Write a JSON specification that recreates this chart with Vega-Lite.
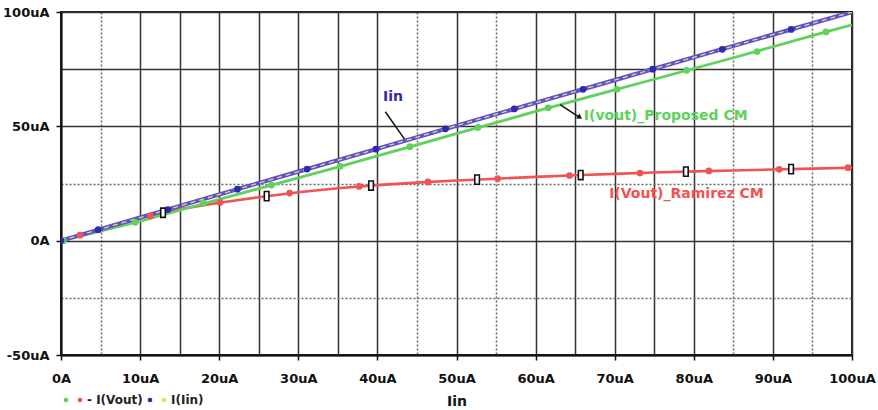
{
  "$schema": "https://vega.github.io/schema/vega-lite/v6.json",
  "width": 791,
  "height": 343,
  "autosize": {"type": "none"},
  "padding": {"left": 61, "top": 12, "right": 26, "bottom": 55},
  "background": "white",
  "config": {
    "view": {"stroke": "#222", "strokeWidth": 2},
    "font": "DejaVu Sans",
    "axis": {
      "gridColor": "#333", "gridWidth": 1.5, "gridOpacity": 1,
      "domainColor": "#111", "domainWidth": 2,
      "tickColor": "#111", "tickWidth": 1.5, "tickSize": 5,
      "labelFont": "DejaVu Sans", "labelFontSize": 13, "labelFontWeight": "bold", "labelColor": "#111",
      "titleFont": "DejaVu Sans", "titleFontSize": 14, "titleFontWeight": "bold", "titleColor": "#111",
      "labelOverlap": false, "labelFlush": false
    },
    "axisX": {"labelPadding": 12},
    "axisY": {"labelPadding": 7}
  },
  "datasets": {
    "curves": [
      {"series": "I(Vout)_Ramirez CM", "x": 0, "y": 0},
      {"series": "I(Vout)_Ramirez CM", "x": 5, "y": 5},
      {"series": "I(Vout)_Ramirez CM", "x": 10, "y": 9.8},
      {"series": "I(Vout)_Ramirez CM", "x": 15, "y": 13.8},
      {"series": "I(Vout)_Ramirez CM", "x": 20, "y": 16.6},
      {"series": "I(Vout)_Ramirez CM", "x": 25, "y": 19.0},
      {"series": "I(Vout)_Ramirez CM", "x": 30, "y": 21.2},
      {"series": "I(Vout)_Ramirez CM", "x": 35, "y": 22.9},
      {"series": "I(Vout)_Ramirez CM", "x": 40, "y": 24.3},
      {"series": "I(Vout)_Ramirez CM", "x": 45, "y": 25.4},
      {"series": "I(Vout)_Ramirez CM", "x": 50, "y": 26.3},
      {"series": "I(Vout)_Ramirez CM", "x": 55, "y": 27.1},
      {"series": "I(Vout)_Ramirez CM", "x": 60, "y": 27.9},
      {"series": "I(Vout)_Ramirez CM", "x": 65, "y": 28.6},
      {"series": "I(Vout)_Ramirez CM", "x": 70, "y": 29.2},
      {"series": "I(Vout)_Ramirez CM", "x": 75, "y": 29.8},
      {"series": "I(Vout)_Ramirez CM", "x": 80, "y": 30.3},
      {"series": "I(Vout)_Ramirez CM", "x": 85, "y": 30.7},
      {"series": "I(Vout)_Ramirez CM", "x": 90, "y": 31.1},
      {"series": "I(Vout)_Ramirez CM", "x": 95, "y": 31.5},
      {"series": "I(Vout)_Ramirez CM", "x": 100, "y": 31.9},
      {"series": "I(vout)_Proposed CM", "x": 0, "y": 0},
      {"series": "I(vout)_Proposed CM", "x": 5, "y": 4.2},
      {"series": "I(vout)_Proposed CM", "x": 10, "y": 8.5},
      {"series": "I(vout)_Proposed CM", "x": 15, "y": 13.3},
      {"series": "I(vout)_Proposed CM", "x": 20, "y": 18.1},
      {"series": "I(vout)_Proposed CM", "x": 25, "y": 22.8},
      {"series": "I(vout)_Proposed CM", "x": 30, "y": 27.5},
      {"series": "I(vout)_Proposed CM", "x": 35, "y": 32.2},
      {"series": "I(vout)_Proposed CM", "x": 40, "y": 37.1},
      {"series": "I(vout)_Proposed CM", "x": 45, "y": 41.9},
      {"series": "I(vout)_Proposed CM", "x": 50, "y": 46.8},
      {"series": "I(vout)_Proposed CM", "x": 55, "y": 51.6},
      {"series": "I(vout)_Proposed CM", "x": 60, "y": 56.5},
      {"series": "I(vout)_Proposed CM", "x": 65, "y": 61.2},
      {"series": "I(vout)_Proposed CM", "x": 70, "y": 65.9},
      {"series": "I(vout)_Proposed CM", "x": 75, "y": 70.6},
      {"series": "I(vout)_Proposed CM", "x": 80, "y": 75.3},
      {"series": "I(vout)_Proposed CM", "x": 85, "y": 80.0},
      {"series": "I(vout)_Proposed CM", "x": 90, "y": 84.8},
      {"series": "I(vout)_Proposed CM", "x": 95, "y": 89.7},
      {"series": "I(vout)_Proposed CM", "x": 100, "y": 94.4},
      {"series": "Iin", "x": 0, "y": 0},
      {"series": "Iin", "x": 10, "y": 10.1},
      {"series": "Iin", "x": 20, "y": 20.2},
      {"series": "Iin", "x": 30, "y": 30.2},
      {"series": "Iin", "x": 40, "y": 40.2},
      {"series": "Iin", "x": 50, "y": 50.3},
      {"series": "Iin", "x": 60, "y": 60.3},
      {"series": "Iin", "x": 70, "y": 70.2},
      {"series": "Iin", "x": 80, "y": 80.2},
      {"series": "Iin", "x": 90, "y": 90.1},
      {"series": "Iin", "x": 100, "y": 100},
      {"series": "I(Iin)", "x": 0, "y": 0},
      {"series": "I(Iin)", "x": 10, "y": 10.1},
      {"series": "I(Iin)", "x": 20, "y": 20.2},
      {"series": "I(Iin)", "x": 30, "y": 30.2},
      {"series": "I(Iin)", "x": 40, "y": 40.2},
      {"series": "I(Iin)", "x": 50, "y": 50.3},
      {"series": "I(Iin)", "x": 60, "y": 60.3},
      {"series": "I(Iin)", "x": 70, "y": 70.2},
      {"series": "I(Iin)", "x": 80, "y": 80.2},
      {"series": "I(Iin)", "x": 90, "y": 90.1},
      {"series": "I(Iin)", "x": 100, "y": 100}
    ],
    "markers": [
      {"series": "I(Vout)_Ramirez CM", "x": 2.4, "y": 2.4},
      {"series": "I(Vout)_Ramirez CM", "x": 11.3, "y": 10.8},
      {"series": "I(Vout)_Ramirez CM", "x": 20.1, "y": 16.7},
      {"series": "I(Vout)_Ramirez CM", "x": 28.9, "y": 20.8},
      {"series": "I(Vout)_Ramirez CM", "x": 37.7, "y": 23.7},
      {"series": "I(Vout)_Ramirez CM", "x": 46.4, "y": 25.7},
      {"series": "I(Vout)_Ramirez CM", "x": 55.2, "y": 27.1},
      {"series": "I(Vout)_Ramirez CM", "x": 64.3, "y": 28.5},
      {"series": "I(Vout)_Ramirez CM", "x": 73.2, "y": 29.6},
      {"series": "I(Vout)_Ramirez CM", "x": 81.9, "y": 30.5},
      {"series": "I(Vout)_Ramirez CM", "x": 90.8, "y": 31.2},
      {"series": "I(Vout)_Ramirez CM", "x": 99.5, "y": 31.9},
      {"series": "I(vout)_Proposed CM", "x": 0.3, "y": 0},
      {"series": "I(vout)_Proposed CM", "x": 9.4, "y": 8.0},
      {"series": "I(vout)_Proposed CM", "x": 18, "y": 16.4},
      {"series": "I(vout)_Proposed CM", "x": 26.6, "y": 24.3},
      {"series": "I(vout)_Proposed CM", "x": 35.3, "y": 32.5},
      {"series": "I(vout)_Proposed CM", "x": 44.1, "y": 41.1},
      {"series": "I(vout)_Proposed CM", "x": 52.7, "y": 49.5},
      {"series": "I(vout)_Proposed CM", "x": 61.6, "y": 58.1},
      {"series": "I(vout)_Proposed CM", "x": 70.3, "y": 66.2},
      {"series": "I(vout)_Proposed CM", "x": 79.1, "y": 74.5},
      {"series": "I(vout)_Proposed CM", "x": 88, "y": 82.7},
      {"series": "I(vout)_Proposed CM", "x": 96.7, "y": 91.3},
      {"series": "Iin", "x": 0, "y": 0},
      {"series": "Iin", "x": 4.7, "y": 4.8},
      {"series": "Iin", "x": 13.5, "y": 13.6},
      {"series": "Iin", "x": 22.3, "y": 22.5},
      {"series": "Iin", "x": 31.1, "y": 31.3},
      {"series": "Iin", "x": 39.8, "y": 40.0},
      {"series": "Iin", "x": 48.6, "y": 48.9},
      {"series": "Iin", "x": 57.3, "y": 57.6},
      {"series": "Iin", "x": 66.0, "y": 66.2},
      {"series": "Iin", "x": 74.8, "y": 75.0},
      {"series": "Iin", "x": 83.6, "y": 83.7},
      {"series": "Iin", "x": 92.3, "y": 92.4}
    ],
    "boxes": [
      {"x": 12.9, "y": 12.2},
      {"x": 26.0, "y": 19.5},
      {"x": 39.2, "y": 24.1},
      {"x": 52.6, "y": 26.7},
      {"x": 65.7, "y": 28.7},
      {"x": 79.0, "y": 30.2},
      {"x": 92.3, "y": 31.3}
    ],
    "pointers": [
      {"name": "Iin", "x": 41.0, "y": 56.4, "x2": 43.4, "y2": 44.5},
      {"name": "Proposed", "x": 63.1, "y": 59.5, "x2": 65.5, "y2": 54.0}
    ],
    "heads": [
      {"name": "Proposed", "x": 65.6, "y": 53.9}
    ],
    "notes": [
      {"series": "Iin", "label": "Iin", "x": 40.7, "y": 63.0},
      {"series": "I(vout)_Proposed CM", "label": "I(vout)_Proposed CM", "x": 66.1, "y": 54.7},
      {"series": "I(Vout)_Ramirez CM", "label": "I(Vout)_Ramirez CM", "x": 69.3, "y": 20.6}
    ]
  },
  "layer": [
    {
      "data": {"name": "curves"},
      "transform": [{"filter": "datum.series == 'I(Vout)_Ramirez CM'"}],
      "mark": {"type": "line", "clip": true, "color": "#f25252", "strokeWidth": 2.6},
      "encoding": {
        "x": {
          "field": "x", "type": "quantitative",
          "scale": {"domain": [0, 100], "nice": false, "zero": false},
          "axis": {
            "orient": "bottom",
            "values": [0, 10, 20, 30, 40, 50, 60, 70, 80, 90, 100],
            "labelExpr": "datum.value == 0 ? '0A' : datum.value + 'uA'",
            "grid": true,
            "title": "Iin",
            "titlePadding": 9
          }
        },
        "y": {
          "field": "y", "type": "quantitative",
          "scale": {"domain": [-50, 100], "nice": false, "zero": false},
          "axis": {
            "orient": "left",
            "values": [-50, 0, 50, 100],
            "labelExpr": "datum.value == 0 ? '0A' : datum.value + 'uA'",
            "grid": true,
            "title": null
          }
        }
      }
    },
    {
      "data": {"name": "curves"},
      "transform": [{"filter": "datum.series == 'I(vout)_Proposed CM'"}],
      "mark": {"type": "line", "clip": true, "color": "#5ed35a", "strokeWidth": 2.8},
      "encoding": {
        "x": {"field": "x", "type": "quantitative", "axis": null},
        "y": {"field": "y", "type": "quantitative", "axis": null}
      }
    },
    {
      "data": {"name": "curves"},
      "transform": [{"filter": "datum.series == 'Iin'"}],
      "mark": {"type": "line", "clip": true, "color": "#5e4fd8", "strokeWidth": 4.2},
      "encoding": {
        "x": {"field": "x", "type": "quantitative", "axis": null},
        "y": {"field": "y", "type": "quantitative", "axis": null}
      }
    },
    {
      "data": {"name": "curves"},
      "transform": [{"filter": "datum.series == 'I(Iin)'"}],
      "mark": {"type": "line", "clip": true, "color": "#eedc4a", "strokeWidth": 1.3, "strokeDash": [5, 4]},
      "encoding": {
        "x": {"field": "x", "type": "quantitative", "axis": null},
        "y": {"field": "y", "type": "quantitative", "axis": null}
      }
    },
    {
      "data": {"name": "markers"},
      "mark": {"type": "point", "filled": true, "opacity": 1, "size": 45, "clip": true},
      "encoding": {
        "x": {
          "field": "x", "type": "quantitative",
          "axis": {
            "orient": "bottom",
            "values": [15, 25, 35, 65, 75],
            "grid": true, "labels": false, "ticks": false, "domain": false, "title": null
          }
        },
        "y": {
          "field": "y", "type": "quantitative",
          "axis": {
            "orient": "left",
            "values": [75],
            "grid": true, "labels": false, "ticks": false, "domain": false, "title": null
          }
        },
        "color": {
          "field": "series", "type": "nominal",
          "scale": {
            "domain": ["I(vout)_Proposed CM", "I(Vout)_Ramirez CM", "Iin", "I(Iin)"],
            "range": ["#5ed35a", "#f25252", "#2e2aa8", "#eedc4a"]
          },
          "legend": {
            "orient": "none",
            "legendX": -1,
            "legendY": 382,
            "direction": "horizontal",
            "title": null,
            "symbolType": "circle",
            "symbolSize": 22,
            "symbolStrokeWidth": 0,
            "labelFont": "DejaVu Sans",
            "labelFontWeight": "bold",
            "labelFontSize": 12,
            "labelColor": "#222",
            "labelOffset": 1,
            "columnPadding": 1,
            "padding": 0,
            "labelExpr": "datum.label == 'I(Vout)_Ramirez CM' ? '- I(Vout)    ' : datum.label == 'I(Iin)' ? 'I(Iin)' : ''"
          }
        }
      }
    },
    {
      "data": {"name": "boxes"},
      "mark": {
        "type": "point",
        "shape": "M-0.5,-1H0.5V1H-0.5Z",
        "size": 85,
        "filled": true,
        "fill": "white",
        "stroke": "#111",
        "strokeWidth": 1.6,
        "opacity": 1
      },
      "encoding": {
        "x": {
          "field": "x", "type": "quantitative",
          "axis": {
            "orient": "bottom",
            "values": [5, 45, 55, 85, 95],
            "grid": true, "gridDash": [2, 2], "gridColor": "#666",
            "labels": false, "ticks": false, "domain": false, "title": null
          }
        },
        "y": {
          "field": "y", "type": "quantitative",
          "axis": {
            "orient": "left",
            "values": [25, -25],
            "grid": true, "gridDash": [2, 2], "gridColor": "#666",
            "labels": false, "ticks": false, "domain": false, "title": null
          }
        }
      }
    },
    {
      "data": {"name": "pointers"},
      "mark": {"type": "rule", "color": "#111", "strokeWidth": 1.5},
      "encoding": {
        "x": {"field": "x", "type": "quantitative", "axis": null},
        "y": {"field": "y", "type": "quantitative", "axis": null},
        "x2": {"field": "x2"},
        "y2": {"field": "y2"}
      }
    },
    {
      "data": {"name": "heads"},
      "mark": {"type": "point", "shape": "triangle-right", "angle": 34, "size": 35, "filled": true, "color": "#111", "opacity": 1},
      "encoding": {
        "x": {"field": "x", "type": "quantitative", "axis": null},
        "y": {"field": "y", "type": "quantitative", "axis": null}
      }
    },
    {
      "data": {"name": "notes"},
      "mark": {"type": "text", "font": "DejaVu Sans", "fontWeight": "bold", "fontSize": 14, "align": "left", "baseline": "middle"},
      "encoding": {
        "x": {"field": "x", "type": "quantitative", "axis": null},
        "y": {"field": "y", "type": "quantitative", "axis": null},
        "text": {"field": "label"},
        "color": {"field": "series", "type": "nominal"}
      }
    }
  ],
  "resolve": {"axis": {"x": "independent", "y": "independent"}}
}
